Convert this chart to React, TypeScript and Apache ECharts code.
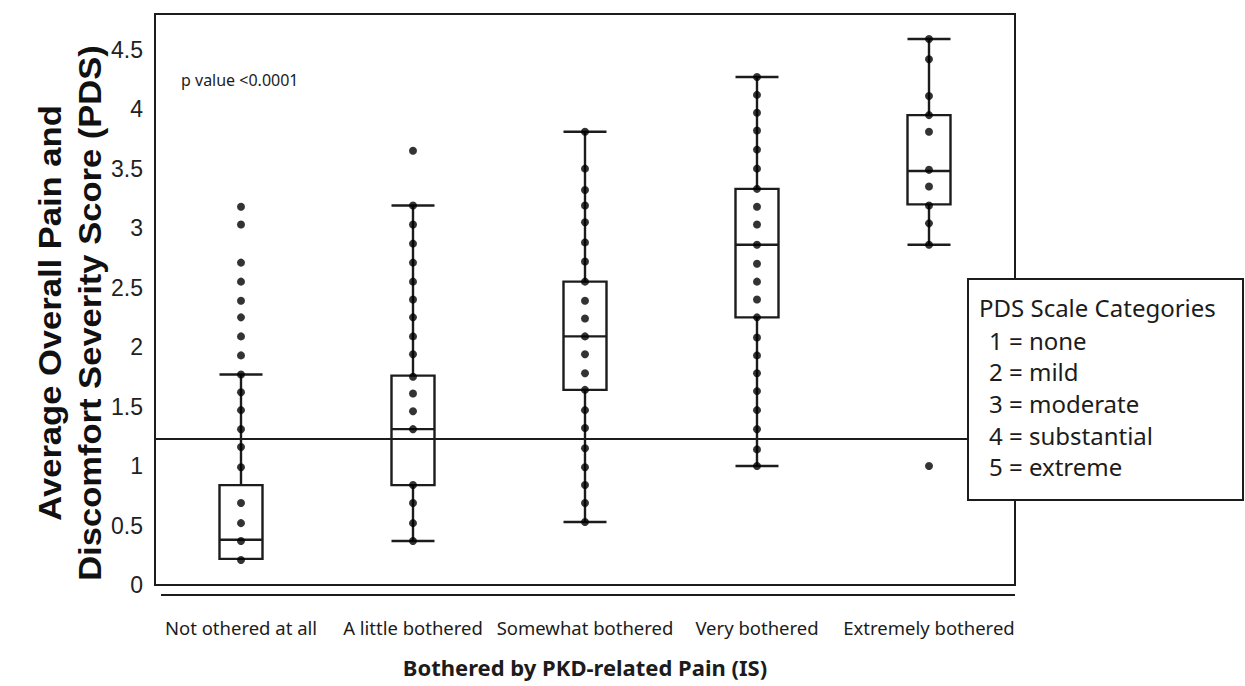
import React, { useEffect, useRef } from "react";
import * as echarts from "echarts";

const categories = [
  "Not othered at all",
  "A little bothered",
  "Somewhat bothered",
  "Very bothered",
  "Extremely bothered",
];

// [min, Q1, median, Q3, max]
const boxStats = [
  [0.22, 0.22, 0.38, 0.84, 1.77],
  [0.37, 0.84, 1.31, 1.76, 3.19],
  [0.53, 1.64, 2.09, 2.55, 3.81],
  [1.0, 2.25, 2.86, 3.33, 4.27],
  [2.86, 3.2, 3.48, 3.95, 4.59],
];

const pointsNotBothered = [3.18, 3.03, 2.71, 2.55, 2.39, 2.25, 2.09, 1.93, 1.77, 1.62, 1.47, 1.31, 1.16, 0.99, 0.69, 0.52, 0.37, 0.21];
const pointsLittle = [3.65, 3.19, 3.03, 2.87, 2.71, 2.55, 2.4, 2.25, 2.09, 1.94, 1.75, 1.61, 1.46, 1.31, 0.84, 0.69, 0.52, 0.37];
const pointsSomewhat = [3.81, 3.5, 3.32, 3.19, 3.05, 2.88, 2.72, 2.55, 2.39, 2.24, 2.09, 1.94, 1.78, 1.64, 1.47, 1.32, 1.15, 0.99, 0.84, 0.69, 0.53];
const pointsVery = [4.27, 4.12, 3.97, 3.82, 3.66, 3.5, 3.33, 3.18, 3.03, 2.86, 2.7, 2.55, 2.4, 2.25, 2.08, 1.93, 1.78, 1.63, 1.47, 1.31, 1.14, 1.0];
const pointsExtremely = [4.59, 4.42, 4.11, 3.95, 3.81, 3.49, 3.35, 3.19, 3.04, 2.86, 1.0];

const pointGroups = [pointsNotBothered, pointsLittle, pointsSomewhat, pointsVery, pointsExtremely];

const referenceValue = 1.23;

const yTitleLines = ["Average Overall Pain and", "Discomfort Severity Score (PDS)"];
const xTitle = "Bothered by PKD-related Pain (IS)";
const pValueText = "p value <0.0001";
const legendTitle = "PDS Scale Categories";
const legendItems = ["1 = none", "2 = mild", "3 = moderate", "4 = substantial", "5 = extreme"];

export default function App() {
  const ref = useRef<HTMLDivElement>(null);

  useEffect(() => {
    if (!ref.current) return;
    const chart = echarts.init(ref.current, undefined, { renderer: "svg" });

    const scatterData: [number, number][] = [];
    pointGroups.forEach((arr, i) => arr.forEach((v) => scatterData.push([i, v])));

    const ink = "#1c1c1c";
    const legendFont = "24px 'Noto Sans'";

    const legendTexts: any[] = [
      {
        type: "text",
        x: 979,
        y: 307,
        z: 101,
        style: { text: legendTitle, font: legendFont, fill: ink, textVerticalAlign: "middle" },
      },
      ...legendItems.map((t, i) => ({
        type: "text",
        x: 989,
        y: 340 + i * 31.7,
        z: 101,
        style: { text: t, font: legendFont, fill: ink, textVerticalAlign: "middle" },
      })),
    ];

    const yTitle = (text: string, x: number) => ({
      type: "text",
      x,
      y: 313,
      rotation: Math.PI / 2,
      scaleX: 1.08,
      style: {
        text,
        font: "bold 32px 'Liberation Sans', Arial",
        fill: "#111",
        textAlign: "center",
        textVerticalAlign: "middle",
      },
      z: 50,
    });

    chart.setOption({
      animation: false,
      backgroundColor: "#ffffff",
      grid: {
        left: 155,
        top: 14,
        right: 230,
        bottom: 101,
        show: true,
        borderColor: ink,
        borderWidth: 2,
        backgroundColor: "transparent",
      },
      xAxis: {
        type: "category",
        data: categories,
        boundaryGap: true,
        axisLine: { show: true, lineStyle: { color: ink, width: 2 } },
        axisTick: { show: false },
        splitLine: { show: false },
        axisLabel: {
          color: ink,
          fontSize: 18.5,
          fontFamily: "'Noto Sans'",
          margin: 33,
          interval: 0,
        },
        name: xTitle,
        nameLocation: "middle",
        nameGap: 71,
        nameTextStyle: {
          color: ink,
          fontSize: 22,
          fontWeight: "bold",
          fontFamily: "'Noto Sans'",
        },
      },
      yAxis: {
        type: "value",
        min: 0,
        max: 4.8,
        interval: 0.5,
        axisLine: { show: true, lineStyle: { color: ink, width: 2 } },
        axisTick: { show: false },
        splitLine: { show: false },
        axisLabel: {
          color: "#222",
          fontSize: 23,
          fontFamily: "'Liberation Sans', Arial",
          margin: 12,
          showMaxLabel: false,
          formatter: (v: number) => String(v),
        },
      },
      series: [
        {
          type: "boxplot",
          data: boxStats,
          boxWidth: [43, 43],
          itemStyle: { color: "transparent", borderColor: ink, borderWidth: 2.4 },
          z: 3,
          markLine: {
            silent: true,
            symbol: "none",
            label: { show: false },
            lineStyle: { color: ink, width: 1.8, type: "solid" },
            data: [{ yAxis: referenceValue }],
          },
        },
        {
          type: "scatter",
          data: scatterData,
          symbol: "circle",
          symbolSize: 8,
          itemStyle: { color: "#000" },
          z: 5,
        },
      ],
      graphic: [
        {
          type: "line",
          shape: { x1: 161, y1: 595, x2: 1015, y2: 595 },
          style: { stroke: ink, lineWidth: 2 },
          z: 50,
        },
        {
          type: "text",
          x: 181,
          y: 80,
          style: { text: pValueText, font: "16px 'Noto Sans'", fill: ink, textVerticalAlign: "middle" },
          z: 50,
        },
        yTitle(yTitleLines[0], 50),
        yTitle(yTitleLines[1], 90),
        {
          type: "rect",
          shape: { x: 968, y: 279, width: 275, height: 221 },
          style: { fill: "#ffffff", stroke: ink, lineWidth: 2 },
          z: 100,
        },
        ...legendTexts,
      ],
    });

    return () => chart.dispose();
  }, []);

  return (
    <div
      ref={ref}
      style={{ position: "absolute", left: 0, top: 0, width: 1245, height: 686 }}
    />
  );
}
